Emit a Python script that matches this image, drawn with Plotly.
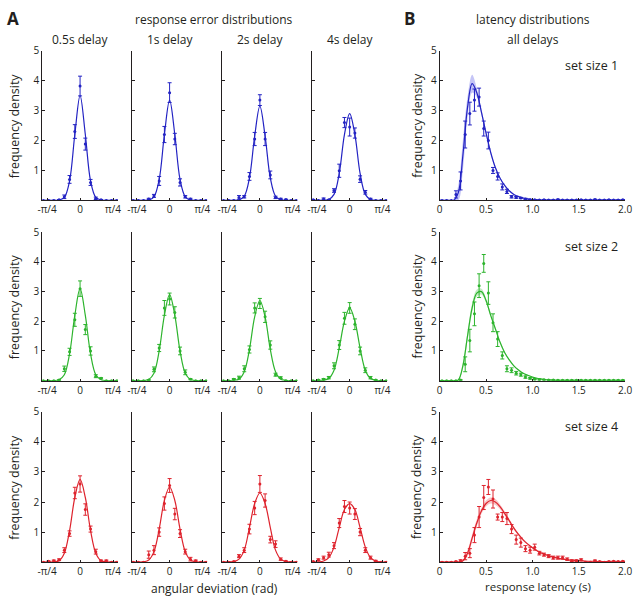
import plotly.graph_objects as go
import numpy as np

W, H = 640, 596

# ---------------- data: response error distributions (panel A) ----------------
err_x = [-0.875, -0.75, -0.625, -0.5, -0.375, -0.25, -0.125, 0.0,
         0.125, 0.25, 0.375, 0.5, 0.625, 0.75, 0.875]
delays = ["0.5s delay", "1s delay", "2s delay", "4s delay"]

# set size 1
ss1_d05_mean = [0, 0, 0, 0.02, 0.12, 0.7, 2.3, 3.82, 1.88, 0.6, 0.07, 0.02, 0, 0, 0]
ss1_d05_sem = [0, 0, 0, 0.01, 0.06, 0.13, 0.23, 0.33, 0.2, 0.1, 0.04, 0.01, 0, 0, 0]
ss1_d05_fit = [0, 0, 0, 0.01, 0.1, 0.65, 2.2, 3.5, 2.2, 0.65, 0.1, 0.01, 0, 0, 0]
ss1_d1_mean = [0, 0, 0, 0.05, 0.15, 0.65, 2.2, 3.6, 2.05, 0.6, 0.12, 0.05, 0, 0, 0]
ss1_d1_sem = [0, 0, 0, 0.02, 0.05, 0.15, 0.27, 0.33, 0.19, 0.12, 0.04, 0.02, 0, 0, 0]
ss1_d1_fit = [0, 0, 0, 0.01, 0.12, 0.7, 2.2, 3.35, 2.2, 0.7, 0.12, 0.01, 0, 0, 0]
ss1_d2_mean = [0, 0, 0, 0.1, 0.12, 0.8, 2.05, 3.35, 2.05, 0.85, 0.1, 0.05, 0.03, 0, 0]
ss1_d2_sem = [0, 0, 0, 0.06, 0.04, 0.13, 0.22, 0.18, 0.22, 0.13, 0.04, 0.02, 0.01, 0, 0]
ss1_d2_fit = [0, 0, 0, 0.02, 0.14, 0.75, 2.15, 3.15, 2.15, 0.75, 0.14, 0.02, 0, 0, 0]
ss1_d4_mean = [0.02, 0, 0.05, 0.02, 0.33, 0.99, 2.6, 2.45, 2.25, 0.71, 0.27, 0.05, 0, 0, 0]
ss1_d4_sem = [0.01, 0, 0.03, 0.01, 0.06, 0.22, 0.17, 0.3, 0.17, 0.11, 0.06, 0.02, 0, 0, 0]
ss1_d4_fit = [0, 0, 0, 0.03, 0.2, 0.9, 2.2, 2.9, 2.2, 0.9, 0.2, 0.03, 0, 0, 0]

# set size 2
ss2_d05_mean = [0, 0, 0, 0.02, 0.4, 0.97, 2.05, 3.1, 1.72, 1.0, 0.15, 0.08, 0, 0, 0]
ss2_d05_sem = [0, 0, 0, 0.01, 0.09, 0.12, 0.22, 0.26, 0.17, 0.14, 0.05, 0.02, 0, 0, 0]
ss2_d05_fit = [0, 0, 0, 0.03, 0.2, 0.9, 2.2, 3.1, 2.2, 0.9, 0.2, 0.03, 0, 0, 0]
ss2_d1_mean = [0, 0, 0, 0.02, 0.38, 1.1, 2.45, 2.75, 2.3, 1.0, 0.28, 0.05, 0, 0, 0]
ss2_d1_sem = [0, 0, 0, 0.01, 0.08, 0.12, 0.25, 0.2, 0.19, 0.13, 0.08, 0.02, 0, 0, 0]
ss2_d1_fit = [0, 0, 0, 0.04, 0.25, 1.0, 2.2, 2.9, 2.2, 1.0, 0.25, 0.04, 0, 0, 0]
ss2_d2_mean = [0, 0, 0.05, 0.1, 0.4, 1.05, 2.45, 2.6, 2.15, 1.2, 0.2, 0.1, 0, 0, 0]
ss2_d2_sem = [0, 0, 0.02, 0.05, 0.1, 0.12, 0.17, 0.17, 0.19, 0.14, 0.05, 0.03, 0, 0, 0]
ss2_d2_fit = [0, 0, 0.01, 0.05, 0.3, 1.05, 2.15, 2.7, 2.15, 1.05, 0.3, 0.05, 0.01, 0, 0]
ss2_d4_mean = [0, 0.02, 0.05, 0.1, 0.5, 1.2, 2.1, 2.45, 1.9, 1.0, 0.35, 0.1, 0.02, 0, 0]
ss2_d4_sem = [0, 0.01, 0.02, 0.04, 0.1, 0.15, 0.2, 0.18, 0.18, 0.13, 0.08, 0.04, 0.01, 0, 0]
ss2_d4_fit = [0, 0, 0.01, 0.07, 0.35, 1.1, 2.0, 2.45, 2.0, 1.1, 0.35, 0.07, 0.01, 0, 0]

# set size 4
ss4_d05_mean = [0, 0.03, 0.05, 0.08, 0.4, 0.95, 2.3, 2.6, 1.75, 1.1, 0.35, 0.05, 0.05, 0, 0]
ss4_d05_sem = [0, 0.01, 0.02, 0.03, 0.08, 0.09, 0.19, 0.27, 0.19, 0.1, 0.08, 0.02, 0.02, 0, 0]
ss4_d05_fit = [0, 0, 0.01, 0.05, 0.3, 1.05, 2.15, 2.75, 2.15, 1.05, 0.3, 0.05, 0.01, 0, 0]
ss4_d1_mean = [0, 0, 0, 0.25, 0.4, 1.0, 1.95, 2.55, 1.6, 0.95, 0.35, 0.1, 0.05, 0, 0]
ss4_d1_sem = [0, 0, 0, 0.12, 0.15, 0.14, 0.22, 0.23, 0.19, 0.13, 0.08, 0.06, 0.02, 0, 0]
ss4_d1_fit = [0, 0, 0.01, 0.07, 0.35, 1.1, 2.05, 2.5, 2.05, 1.1, 0.35, 0.07, 0.01, 0, 0]
ss4_d2_mean = [0, 0, 0.02, 0.2, 0.4, 1.1, 1.8, 2.6, 2.05, 0.75, 0.6, 0.1, 0.03, 0, 0]
ss4_d2_sem = [0, 0, 0.01, 0.05, 0.08, 0.16, 0.22, 0.28, 0.22, 0.11, 0.11, 0.04, 0.01, 0, 0]
ss4_d2_fit = [0, 0.01, 0.02, 0.1, 0.4, 1.15, 1.95, 2.3, 1.95, 1.15, 0.4, 0.1, 0.02, 0.01, 0]
ss4_d4_mean = [0.02, 0.08, 0.15, 0.25, 0.55, 1.3, 1.85, 1.8, 1.6, 1.0, 0.4, 0.15, 0.04, 0, 0]
ss4_d4_sem = [0.01, 0.03, 0.05, 0.08, 0.1, 0.15, 0.2, 0.2, 0.18, 0.12, 0.08, 0.05, 0.02, 0, 0]
ss4_d4_fit = [0, 0.01, 0.04, 0.15, 0.5, 1.15, 1.75, 1.95, 1.75, 1.15, 0.5, 0.15, 0.04, 0.01, 0]

err_rows = [
    [(ss1_d05_mean, ss1_d05_sem, ss1_d05_fit), (ss1_d1_mean, ss1_d1_sem, ss1_d1_fit),
     (ss1_d2_mean, ss1_d2_sem, ss1_d2_fit), (ss1_d4_mean, ss1_d4_sem, ss1_d4_fit)],
    [(ss2_d05_mean, ss2_d05_sem, ss2_d05_fit), (ss2_d1_mean, ss2_d1_sem, ss2_d1_fit),
     (ss2_d2_mean, ss2_d2_sem, ss2_d2_fit), (ss2_d4_mean, ss2_d4_sem, ss2_d4_fit)],
    [(ss4_d05_mean, ss4_d05_sem, ss4_d05_fit), (ss4_d1_mean, ss4_d1_sem, ss4_d1_fit),
     (ss4_d2_mean, ss4_d2_sem, ss4_d2_fit), (ss4_d4_mean, ss4_d4_sem, ss4_d4_fit)],
]

# ---------------- data: latency distributions (panel B) ----------------
lat_x = np.round(np.arange(0.025, 2.0, 0.05), 3)     # bin centres
fit_x = np.round(np.arange(0.0, 2.001, 0.05), 3)     # model curve grid

ss1_lat_mean = [0, 0, 0, 0.2, 0.65, 2.2, 2.9, 3.35, 3.45, 2.4, 2.0, 1.0, 0.8, 0.45, 0.3,
                0.12, 0.1, 0.08, 0.05, 0.02, 0.02, 0.01, 0.02, 0.01, 0.01, 0.03, 0.01, 0.01,
                0.01, 0.01, 0.02, 0.01, 0.01, 0.03, 0.01, 0.01, 0.02, 0.01, 0.01, 0.02]
ss1_lat_sem = [0, 0, 0, 0.12, 0.3, 0.45, 0.38, 0.37, 0.3, 0.25, 0.28, 0.1, 0.12, 0.1, 0.07,
               0.04, 0.03, 0.02, 0.02, 0.01, 0.01, 0.01, 0.01, 0.01, 0.01, 0.01, 0.01, 0.01,
               0.01, 0.01, 0.01, 0.01, 0.01, 0.01, 0.01, 0.01, 0.01, 0.01, 0.01, 0.01]
ss1_lat_fit = [0, 0, 0, 0, 0.25, 1.5, 3.1, 3.9, 3.6, 2.95, 2.25, 1.6, 1.1, 0.75, 0.5, 0.32,
               0.2, 0.13, 0.08, 0.05, 0.03, 0.02, 0.01, 0.01, 0.01, 0.01, 0.01, 0.01, 0.01,
               0.01, 0.01, 0.01, 0.01, 0.01, 0.01, 0.01, 0.01, 0.01, 0.01, 0.01, 0.01]
ss1_lat_ci = [0, 0, 0, 0.02, 0.25, 0.5, 0.35, 0.3, 0.15, 0.1, 0.08, 0.05, 0.04, 0.03, 0.03,
              0.02, 0.02, 0.02, 0.01, 0.01, 0.01, 0.01, 0.01, 0.01, 0.01, 0.01, 0.01, 0.01,
              0.01, 0.01, 0.01, 0.01, 0.01, 0.01, 0.01, 0.01, 0.01, 0.01, 0.01, 0.01, 0.01]

ss2_lat_mean = [0, 0, 0, 0, 0.02, 0.55, 1.35, 2.25, 3.2, 3.95, 2.95, 1.95, 1.4, 0.85, 0.4,
                0.35, 0.25, 0.2, 0.12, 0.08, 0.05, 0.04, 0.03, 0.02, 0.02, 0.01, 0.01, 0.01,
                0.01, 0.01, 0.01, 0.01, 0.01, 0.01, 0.01, 0.01, 0.01, 0.01, 0.01, 0.01]
ss2_lat_sem = [0, 0, 0, 0, 0.01, 0.25, 0.38, 0.4, 0.4, 0.3, 0.38, 0.3, 0.25, 0.12, 0.1,
               0.08, 0.06, 0.05, 0.04, 0.03, 0.02, 0.02, 0.01, 0.01, 0.01, 0.01, 0.01, 0.01,
               0.01, 0.01, 0.01, 0.01, 0.01, 0.01, 0.01, 0.01, 0.01, 0.01, 0.01, 0.01]
ss2_lat_fit = [0, 0, 0, 0, 0.02, 0.5, 1.5, 2.45, 2.95, 3.0, 2.7, 2.2, 1.75, 1.3, 0.95, 0.7,
               0.5, 0.36, 0.25, 0.18, 0.12, 0.08, 0.05, 0.03, 0.02, 0.01, 0.01, 0.01, 0.01,
               0.01, 0.01, 0.01, 0.01, 0.01, 0.01, 0.01, 0.01, 0.01, 0.01, 0.01, 0.01]
ss2_lat_ci = [0, 0, 0, 0, 0.02, 0.12, 0.15, 0.15, 0.12, 0.1, 0.08, 0.06, 0.05, 0.04, 0.03,
              0.03, 0.02, 0.02, 0.02, 0.01, 0.01, 0.01, 0.01, 0.01, 0.01, 0.01, 0.01, 0.01,
              0.01, 0.01, 0.01, 0.01, 0.01, 0.01, 0.01, 0.01, 0.01, 0.01, 0.01, 0.01, 0.01]

ss4_lat_mean = [0, 0, 0, 0.02, 0.05, 0.2, 0.3, 0.9, 1.5, 2.15, 2.5, 2.1, 1.5, 1.5, 1.45,
                1.1, 0.75, 0.65, 0.45, 0.4, 0.5, 0.3, 0.25, 0.2, 0.15, 0.15, 0.15, 0.1, 0.05,
                0.05, 0.08, 0, 0, 0.05, 0.02, 0, 0.02, 0.03, 0.02, 0.03]
ss4_lat_sem = [0, 0, 0, 0.01, 0.03, 0.12, 0.15, 0.25, 0.35, 0.4, 0.25, 0.3, 0.1, 0.15, 0.2,
               0.15, 0.15, 0.15, 0.1, 0.1, 0.1, 0.06, 0.05, 0.05, 0.05, 0.05, 0.05, 0.04,
               0.03, 0.03, 0.03, 0.01, 0.01, 0.02, 0.01, 0.01, 0.01, 0.01, 0.01, 0.01]
ss4_lat_fit = [0, 0, 0, 0, 0, 0.05, 0.3, 0.8, 1.3, 1.7, 1.95, 2.05, 2.0, 1.85, 1.62, 1.38,
               1.13, 0.92, 0.74, 0.6, 0.48, 0.38, 0.3, 0.24, 0.19, 0.15, 0.12, 0.09, 0.07,
               0.06, 0.05, 0.04, 0.03, 0.03, 0.02, 0.02, 0.02, 0.01, 0.01, 0.01, 0.01]
ss4_lat_ci = [0, 0, 0, 0, 0, 0.03, 0.1, 0.12, 0.12, 0.1, 0.1, 0.1, 0.1, 0.08, 0.07, 0.06,
              0.05, 0.04, 0.04, 0.03, 0.03, 0.02, 0.02, 0.02, 0.02, 0.01, 0.01, 0.01, 0.01,
              0.01, 0.01, 0.01, 0.01, 0.01, 0.01, 0.01, 0.01, 0.01, 0.01, 0.01, 0.01]

lat_rows = [
    (ss1_lat_mean, ss1_lat_sem, ss1_lat_fit, ss1_lat_ci, "set size 1"),
    (ss2_lat_mean, ss2_lat_sem, ss2_lat_fit, ss2_lat_ci, "set size 2"),
    (ss4_lat_mean, ss4_lat_sem, ss4_lat_fit, ss4_lat_ci, "set size 4"),
]

colors = ["rgb(35,35,195)", "rgb(45,180,45)", "rgb(222,35,45)"]
bands = ["rgba(90,90,230,0.35)", "rgba(90,200,90,0.35)", "rgba(235,90,95,0.35)"]

# ---------------- layout geometry (pixels) ----------------
col_px = [(38, 115), (129.5, 206), (221.5, 298), (313, 389.5), (443, 632)]
row_px = [(43.3, 195), (227.3, 377.7), (409.3, 561.7)]  # (y of 5, y of 0)

FONT = "Open Sans, Arial, sans-serif"
INK = "#231f20"


def fx(x):
    return x / W


def fy(y):
    return 1 - y / H


fig = go.Figure()
layout = {}
anns = []

for r in range(3):
    for c in range(5):
        n = r * 5 + c + 1
        xa = "x" if n == 1 else f"x{n}"
        ya = "y" if n == 1 else f"y{n}"
        x0, x1 = col_px[c]
        ytop, ybot = row_px[r]
        col = colors[r]

        if c < 4:
            mean, sem, fit = err_rows[r][c]
            fig.add_trace(go.Scatter(x=err_x, y=fit, mode="lines", xaxis=xa, yaxis=ya,
                                     line=dict(color=col, width=1.2, shape="spline", smoothing=1.0),
                                     hoverinfo="skip"))
            fig.add_trace(go.Scatter(x=err_x, y=mean, mode="markers", xaxis=xa, yaxis=ya,
                                     marker=dict(color=col, size=3),
                                     error_y=dict(type="data", array=sem, color=col,
                                                  thickness=1, width=2)))
            xaxis = dict(range=[-0.9, 0.9], tickvals=[-np.pi / 4, 0, np.pi / 4],
                         ticktext=["-\u03c0/4", "0", "\u03c0/4"])
        else:
            mean, sem, fit, ci, lab = lat_rows[r]
            lo = [max(f - w, 0) for f, w in zip(fit, ci)]
            hi = [f + w for f, w in zip(fit, ci)]
            fig.add_trace(go.Scatter(x=fit_x, y=lo, mode="lines", xaxis=xa, yaxis=ya,
                                     line=dict(width=0, shape="spline"), hoverinfo="skip"))
            fig.add_trace(go.Scatter(x=fit_x, y=hi, mode="lines", xaxis=xa, yaxis=ya,
                                     line=dict(width=0, shape="spline"), fill="tonexty",
                                     fillcolor=bands[r], hoverinfo="skip"))
            fig.add_trace(go.Scatter(x=fit_x, y=fit, mode="lines", xaxis=xa, yaxis=ya,
                                     line=dict(color=col, width=1.2, shape="spline"),
                                     hoverinfo="skip"))
            fig.add_trace(go.Scatter(x=lat_x, y=mean, mode="markers", xaxis=xa, yaxis=ya,
                                     marker=dict(color=col, size=3),
                                     error_y=dict(type="data", array=sem, color=col,
                                                  thickness=1, width=2)))
            xaxis = dict(range=[0, 2], tickvals=[0, 0.5, 1, 1.5, 2],
                         ticktext=["0", "0.5", "1.0", "1.5", "2.0"])
            anns.append(dict(text=lab, x=fx(627), y=fy([58, 242, 424][r]), xref="paper",
                             yref="paper", xanchor="right", yanchor="middle", showarrow=False,
                             font=dict(size=12.5, family=FONT, color=INK)))

        xaxis.update(domain=[fx(x0), fx(x1)], anchor=ya, showline=True, linecolor=INK,
                     linewidth=1, ticks="inside", ticklen=2, tickcolor=INK, showgrid=False,
                     zeroline=False, tickfont=dict(size=10, family=FONT, color=INK))
        yaxis = dict(domain=[fy(ybot), fy(ytop)], anchor=xa, range=[0, 5],
                     tickvals=[1, 2, 3, 4, 5], showticklabels=(c == 0 or c == 4),
                     showline=True, linecolor=INK, linewidth=1, ticks="inside", ticklen=3,
                     tickcolor=INK, showgrid=False, zeroline=False,
                     tickfont=dict(size=10, family=FONT, color=INK))
        layout["xaxis" if n == 1 else f"xaxis{n}"] = xaxis
        layout["yaxis" if n == 1 else f"yaxis{n}"] = yaxis


def text(s, x, y, size=12, bold=False, angle=0):
    anns.append(dict(text=f"<b>{s}</b>" if bold else s, x=fx(x), y=fy(y), xref="paper",
                     yref="paper", xanchor="center", yanchor="middle", showarrow=False,
                     textangle=angle, font=dict(size=size, family=FONT, color=INK)))


text("A", 8, 11, size=17, bold=True)
text("B", 412, 11, size=17, bold=True)
text("response error distributions", 213, 12)
text("latency distributions", 538, 12)
text("all delays", 538, 31.5)
for c, d in enumerate(delays):
    x0, x1 = col_px[c]
    text(d, (x0 + x1) / 2, 31.5)
for r in range(3):
    yc = sum(row_px[r]) / 2
    text("frequency density", 10, yc, size=12.5, angle=-90)
    text("frequency density", 420, yc, size=12.5, angle=-90)
text("angular deviation (rad)", 213, 588.5)
text("response latency (s)", 543, 586.5, size=11.5)

layout["annotations"] = anns
fig.update_layout(**layout)
fig.update_layout(width=W, height=H, margin=dict(l=0, r=0, t=0, b=0),
                  paper_bgcolor="white", plot_bgcolor="white", showlegend=False)

# the page body has a default 8px margin; drop it so the figure sits at the window origin
fig.write_html("out.html", config={"displayModeBar": False},
               post_script="document.body.style.margin='0';document.body.style.overflow='hidden';")
